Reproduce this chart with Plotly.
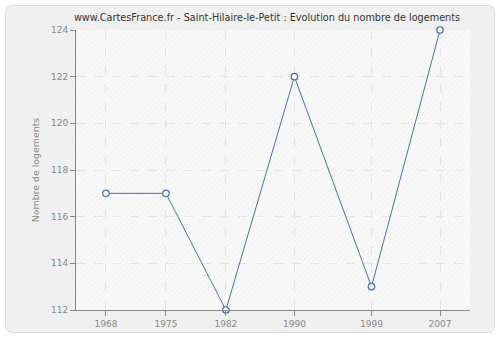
import plotly.graph_objects as go

years = [1968, 1975, 1982, 1990, 1999, 2007]
logements = [117, 117, 112, 122, 113, 124]
title = "www.CartesFrance.fr - Saint-Hilaire-le-Petit : Evolution du nombre de logements"
y_title = "Nombre de logements"

x_range = [1964.5, 2010.5]
y_range = [112, 124]

W, H = 500, 340
L, R, T, B = 76, 30, 30, 30
pw, ph = W - L - R, H - T - B

def px(x):
    return (x - L) / pw

def py(y):
    return (H - B - y) / ph

fig = go.Figure()

# hatch background covering the plot area (decoration)
fig.add_trace(go.Bar(x=[(x_range[0] + x_range[1]) / 2], y=[y_range[1] - y_range[0]], base=[y_range[0]],
                     width=[x_range[1] - x_range[0]],
                     marker=dict(color="rgba(0,0,0,0)", line=dict(width=0),
                                 pattern=dict(shape="/", fgcolor="#ececec", bgcolor="rgba(0,0,0,0)",
                                              size=4, solidity=0.3, fillmode="overlay")),
                     hoverinfo="skip", showlegend=False))

fig.add_trace(go.Scatter(x=years, y=logements, mode="lines+markers", cliponaxis=False,
                         line=dict(color="#4a72a8", width=1),
                         marker=dict(size=6.5, color="white", line=dict(color="#4a72a8", width=1.2)),
                         showlegend=False))

# outer rounded panel
x0, x1 = px(5.5), px(494.5)
y0, y1 = py(332.5), py(5.5)
rx, ry = 7 / pw, 7 / ph
path = (f"M {x0+rx},{y1} L {x1-rx},{y1} Q {x1},{y1} {x1},{y1-ry} "
        f"L {x1},{y0+ry} Q {x1},{y0} {x1-rx},{y0} L {x0+rx},{y0} Q {x0},{y0} {x0},{y0+ry} "
        f"L {x0},{y1-ry} Q {x0},{y1} {x0+rx},{y1} Z")
fig.add_shape(type="path", path=path, xref="paper", yref="paper",
              fillcolor="#f0f0f0", line=dict(color="#dcdcdc", width=1), layer="below")
# plot area background
fig.add_shape(type="rect", x0=0, x1=1, y0=0, y1=1, xref="paper", yref="paper",
              fillcolor="#f9f9f9", line=dict(width=0), layer="below")

grid = dict(showgrid=True, gridcolor="#e4e4e4", griddash="dash", gridwidth=1)
fig.update_layout(
    width=W, height=H,
    margin=dict(l=L, r=R, t=T, b=B),
    paper_bgcolor="white", plot_bgcolor="rgba(0,0,0,0)",
    font=dict(family="DejaVu Sans", size=9, color="#888"),
    title=dict(text=title, x=px(267), xanchor="center", xref="paper", y=1 - 18 / H, yanchor="middle",
               font=dict(size=9.7, color="#333")),
    xaxis=dict(range=x_range, tickvals=years, ticks="outside", ticklen=5, tickcolor="#888",
               showline=True, linecolor="#888", linewidth=1, zeroline=False, **grid,
               tickfont=dict(size=9, color="#888")),
    yaxis=dict(range=y_range, dtick=2, ticks="outside", ticklen=5, tickcolor="#888",
               showline=True, linecolor="#888", linewidth=1, zeroline=False, **grid,
               title=dict(text=y_title, font=dict(size=9.4, color="#888"), standoff=9),
               tickfont=dict(size=9, color="#888")),
    bargap=0,
)
fig.write_html("out.html")
